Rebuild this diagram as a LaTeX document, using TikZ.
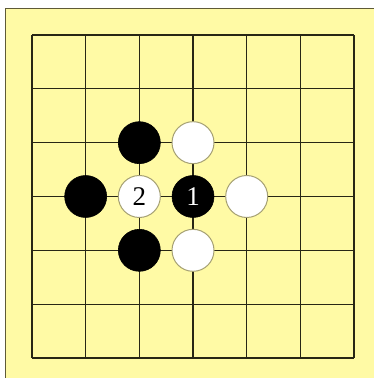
\documentclass[tikz,border=0pt]{standalone}
\usepackage{fontspec}
\newfontfamily\stonefont{Liberation Serif}
\definecolor{boardyellow}{RGB}{255,250,165}
\definecolor{gridline}{RGB}{40,38,20}
\definecolor{edgeline}{RGB}{95,90,55}
\definecolor{stoneedge}{RGB}{165,160,115}
\tikzset{
  blackstone/.style={circle,fill=black,draw=black,line width=0.6pt,minimum size=42pt,inner sep=0pt,text=white},
  whitestone/.style={circle,fill=white,draw=stoneedge,line width=1pt,minimum size=42pt,inner sep=0pt,text=black},
  movenum/.style={font=\stonefont\fontsize{27}{27}\selectfont}
}
\begin{document}
\begin{tikzpicture}[x=1pt,y=1pt,yscale=-1,xscale=1]
  \useasboundingbox (0,0) rectangle (374,378);
  % board
  \fill [white] (0,0) rectangle (374,378);
  \fill [boardyellow] (5,8) rectangle (374,378);
  \draw [edgeline,line width=1pt] (5,378) -- (5,8) -- (374,8);
  % grid lines
  \foreach \i in {0,...,6} {
    \draw [gridline,line width=1.3pt] ({32+53.67*\i},35) -- ({32+53.67*\i},358);
    \draw [gridline,line width=1.3pt] (32,{35+53.83*\i}) -- (354,{35+53.83*\i});
  }
  % stones
  \node [blackstone] (b22) at ({32+53.67*2},{35+53.83*2}) {};
  \node [whitestone] (w32) at ({32+53.67*3},{35+53.83*2}) {};
  \node [blackstone] (b13) at ({32+53.67*1},{35+53.83*3}) {};
  \node [whitestone,movenum] (w23) at ({32+53.67*2},{35+53.83*3}) {2};
  \node [blackstone,movenum] (b33) at ({32+53.67*3},{35+53.83*3}) {1};
  \node [whitestone] (w43) at ({32+53.67*4},{35+53.83*3}) {};
  \node [blackstone] (b24) at ({32+53.67*2},{35+53.83*4}) {};
  \node [whitestone] (w34) at ({32+53.67*3},{35+53.83*4}) {};
\end{tikzpicture}
\end{document}
